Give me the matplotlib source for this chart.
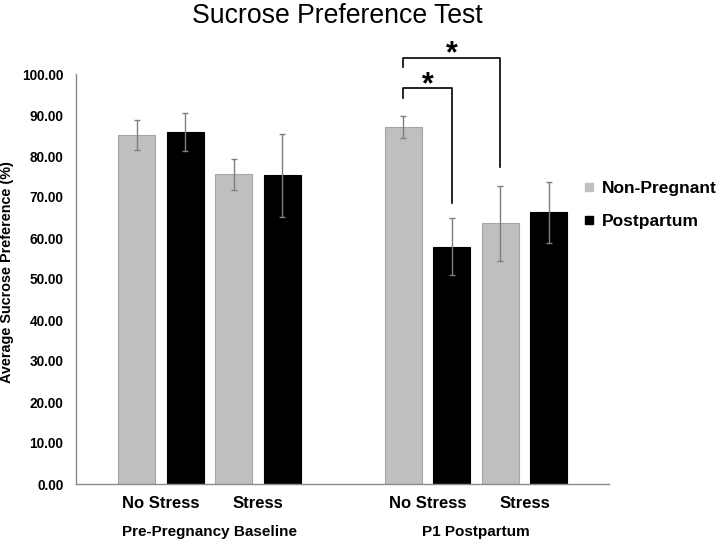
import matplotlib
matplotlib.use("Agg")
import matplotlib.pyplot as plt
from matplotlib.lines import Line2D
from matplotlib.ticker import FormatStrFormatter

plt.rcParams["font.family"] = ["Liberation Sans", "DejaVu Sans"]

# Data
groups = ["Pre-Pregnancy Baseline", "P1 Postpartum"]
conditions = ["No Stress", "Stress"]
series = ["Non-Pregnant", "Postpartum"]

non_pregnant_mean = [85.2, 75.5, 87.1, 63.6]
non_pregnant_err = [3.7, 3.7, 2.6, 9.2]
postpartum_mean = [85.9, 75.3, 57.9, 66.3]
postpartum_err = [4.7, 10.1, 7.0, 7.4]

# significance brackets: (left bar index, right bar index, left foot, top, right foot)
brackets = [
    (4, 5, 94.1, 96.5, 68.5),
    (4, 6, 101.8, 104.0, 77.4),
]

# Layout
grey = "#bfbfbf"
bar_w = 0.76
x_np = [0, 2, 5.5, 7.5]
x_pp = [1, 3, 6.5, 8.5]
bar_x = [0, 1, 2, 3, 5.5, 6.5, 7.5, 8.5]

fig = plt.figure(figsize=(7.23, 5.43), dpi=100)
ax = fig.add_axes([76 / 723, 59 / 543, 533 / 723, 410 / 543])

err_kw = dict(ecolor="#7f7f7f", elinewidth=1.0, capsize=2.5, capthick=1.0)
ax.bar(x_np, non_pregnant_mean, bar_w, yerr=non_pregnant_err, color=grey,
       edgecolor="#a6a6a6", linewidth=0.8, error_kw=err_kw, zorder=2)
ax.bar(x_pp, postpartum_mean, bar_w, yerr=postpartum_err, color="black",
       edgecolor="black", linewidth=0.8, error_kw=err_kw, zorder=2)

ax.set_xlim(-1.25, 9.74)
ax.set_ylim(0, 100)
ax.set_yticks(range(0, 101, 10))
ax.yaxis.set_major_formatter(FormatStrFormatter("%.2f"))
ax.tick_params(axis="both", length=0)
ax.tick_params(axis="y", pad=9, labelsize=9.8)
for lbl in ax.get_yticklabels():
    lbl.set_fontweight("bold")

ax.set_xticks([0.5, 2.5, 6.0, 8.0])
ax.set_xticklabels(conditions * 2, fontsize=12, fontweight="bold")
ax.tick_params(axis="x", pad=9)

for g, cx in zip(groups, [1.5, 7.0]):
    ax.text(cx, -0.117, g, transform=ax.get_xaxis_transform(), ha="center",
            va="center", fontsize=11, fontweight="bold")

for side in ["top", "right"]:
    ax.spines[side].set_visible(False)
for side in ["left", "bottom"]:
    ax.spines[side].set_color("#8c8c8c")
    ax.spines[side].set_linewidth(1.0)

ax.set_ylabel("Average Sucrose Preference (%)", fontsize=10.4, fontweight="bold")
ax.yaxis.set_label_coords(-0.116, 0.516)

# Significance brackets
for i, j, yl, yt, yr in brackets:
    xl, xr = bar_x[i], bar_x[j]
    ax.plot([xl, xl, xr, xr], [yl, yt, yt, yr], color="black", lw=1.2,
            clip_on=False, zorder=3)
    ax.text((xl + xr) / 2, yt - 2.8, "*", ha="center", va="bottom",
            fontsize=22, fontweight="bold", clip_on=False)

fig.text(337 / 723, 1 - 16 / 543, "Sucrose Preference Test", ha="center",
         va="center", fontsize=19.2)

handles = [
    Line2D([], [], marker="s", ls="", color=grey, markersize=6),
    Line2D([], [], marker="s", ls="", color="black", markersize=6),
]
leg = fig.legend(handles, series, loc="center left",
                 bbox_to_anchor=(566 / 723, 1 - 205 / 543), frameon=False,
                 handlelength=0.8, handletextpad=0.35, labelspacing=1.05,
                 prop={"size": 12.5, "weight": "bold"})

fig.savefig("out.png", dpi=100)
